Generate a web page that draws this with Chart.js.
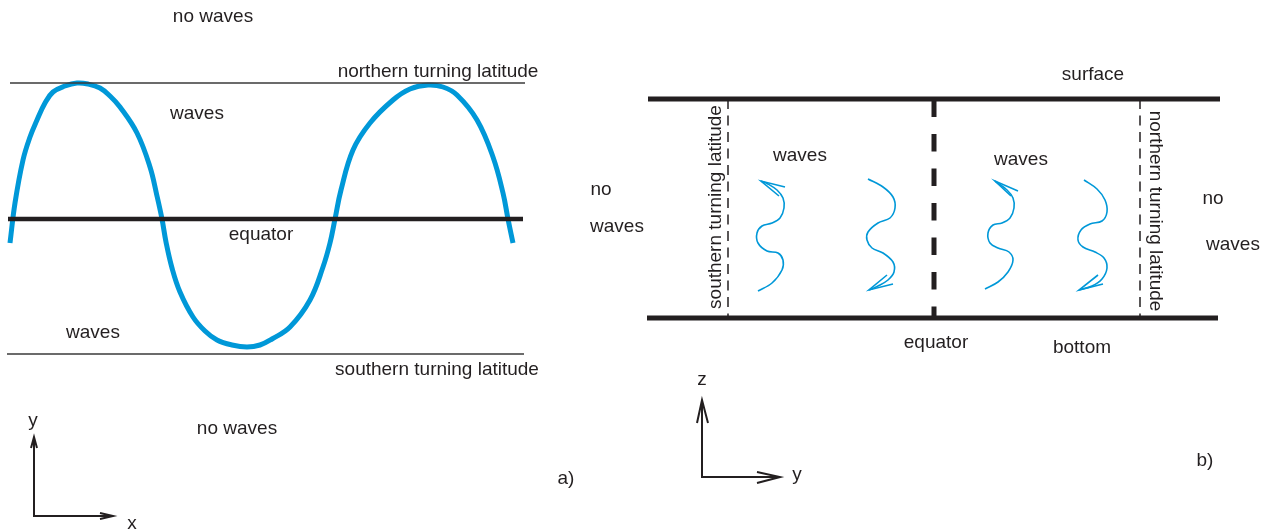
<!DOCTYPE html>
<html lang="en">
<head>
  <meta charset="UTF-8">
  <title>Equatorial waves between turning latitudes</title>
  <script src="https://cdn.jsdelivr.net/npm/chart.js"></script>
  <style>
  body {
    background: #ffffff;
    margin: 0;
  }

  #box {
    width: 1271px;
    height: 532px;
  }
</style>
</head>
<body>

  <div id="box"><canvas id="chart"></canvas></div>

  <script>
    // drawing space = picture pixels (x right, y down)
    const sineWave = [
      [10, 243], [15, 203], [23, 160], [30, 137], [37, 120], [45, 103], [53, 92], [65, 86], [77, 83],
      [88, 84], [100, 88], [110, 96], [120, 107], [137, 133], [150, 167], [157, 196], [162, 219],
      [166, 242], [172, 268], [180, 292], [193, 317], [205, 331], [217, 340], [232, 345], [247, 347],
      [260, 345], [272, 339], [290, 327], [310, 300], [323, 267], [330, 243], [335, 219], [341, 190],
      [353, 150], [370, 123], [393, 100], [410, 89], [428, 85], [443, 87], [457, 95], [477, 120],
      [493, 157], [503, 193], [508, 219], [513, 243]
    ];
    const northLine = [[10, 83], [525, 83]];
    const southLine = [[7, 354], [524, 354]];
    const equatorA = [[8, 219], [523, 219]];

    const surfaceLine = [[648, 99], [1220, 99]];
    const bottomLine = [[647, 318], [1218, 318]];
    const southDash = [[728, 99], [728, 316]];
    const northDash = [[1140, 99], [1140, 316]];
    const equatorB = [[934, 99.5], [934, 318]];

    const wiggle1 = [[758, 291], [772, 283], [782, 270], [783, 260], [778, 253], [767, 251], [758, 243], [757, 233],
      [762, 226], [772, 223], [780, 218], [784, 208], [783, 198], [777, 190], [768, 184], [761, 181]];
    const head1 = [[785, 187], [761, 181], [779, 196]];
    const wiggle2 = [[868, 179], [883, 187], [893, 197], [895, 208], [890, 218], [878, 223], [868, 232], [867, 240],
      [872, 248], [883, 253], [893, 262], [894, 272], [888, 280], [878, 286], [869, 290]];
    const head2 = [[893, 284], [869, 290], [887, 275]];
    const wiggle3 = [[985, 289], [998, 282], [1008, 272], [1013, 260], [1009, 252], [998, 248], [990, 243], [988, 233],
      [993, 225], [1002, 223], [1010, 218], [1014, 208], [1013, 198], [1007, 190], [995, 181]];
    const head3 = [[1018, 191], [995, 181], [1011, 196]];
    const wiggle4 = [[1084, 180], [1097, 189], [1105, 200], [1107, 212], [1102, 221], [1090, 224], [1081, 230], [1078, 240],
      [1083, 247], [1095, 252], [1104, 258], [1107, 268], [1102, 279], [1092, 286], [1079, 290]];
    const head4 = [[1103, 284], [1079, 290], [1098, 275]];

    const axisA = [[34, 437], [34, 516], [113, 516]];
    const axisAHeads = [[[31, 448], [34, 437], [37, 448]], [[100, 513], [113, 516], [100, 519]]];
    const axisB = [[702, 400], [702, 477], [780, 477]];
    const axisBHeads = [[[697, 423], [702, 400], [708, 423]], [[757, 472], [780, 477], [757, 483]]];

    const labelTexts = ['no waves', 'northern turning latitude', 'waves', 'equator', 'waves', 'southern turning latitude',
      'y', 'x', 'no waves', 'a)',
      'surface', 'no', 'waves', 'waves', 'waves', 'southern turning latitude', 'northern turning latitude',
      'no', 'waves', 'equator', 'bottom', 'z', 'y', 'b)'];
    const labelX = [213, 438, 197, 261, 93, 437, 33, 132, 237, 566,
      1093, 601, 617, 800, 1021, 716, 1155, 1213, 1233, 936, 1082, 702, 797, 1205];
    const labelY = [17, 72, 114, 235, 333, 370, 421, 524, 429, 479,
      75, 190, 227, 156, 160, 207, 211, 199, 245, 343, 348, 380, 475, 461];
    const labelAngle = [0, 0, 0, 0, 0, 0, 0, 0, 0, 0,
      0, 0, 0, 0, 0, -90, 90, 0, 0, 0, 0, 0, 0, 0];

    const ink = '#231f20';
    const blue = '#0098d8';
    const pts = list => list.map(p => ({ x: p[0], y: p[1] }));

    function line(list, color, width, extra) {
      return Object.assign({
        data: pts(list),
        showLine: true,
        borderColor: color,
        borderWidth: width,
        pointRadius: 0,
        fill: false,
        tension: 0,
        clip: false
      }, extra || {});
    }

    const datasets = [
      line(northLine, '#3a3a3a', 1.3),
      line(southLine, '#3a3a3a', 1.3),
      line(equatorA, ink, 4.5),
      line(sineWave, blue, 5, { tension: 0.4 }),
      line(surfaceLine, ink, 5),
      line(bottomLine, ink, 5),
      line(southDash, ink, 1.5, { borderDash: [10, 6.5] }),
      line(northDash, ink, 1.5, { borderDash: [10, 6.5] }),
      line(equatorB, ink, 5, { borderDash: [17.5, 17] }),
      line(wiggle1, blue, 1.6, { tension: 0.35 }),
      line(wiggle2, blue, 1.6, { tension: 0.35 }),
      line(wiggle3, blue, 1.6, { tension: 0.35 }),
      line(wiggle4, blue, 1.6, { tension: 0.35 }),
      line(head1, blue, 1.6),
      line(head2, blue, 1.6),
      line(head3, blue, 1.6),
      line(head4, blue, 1.6),
      line(axisA, ink, 2),
      line(axisB, ink, 2)
    ];
    axisAHeads.concat(axisBHeads).forEach(h => datasets.push(line(h, ink, 2)));

    const textPlugin = {
      id: 'texts',
      afterDatasetsDraw(chart) {
        const c = chart.ctx;
        const xs = chart.scales.x;
        const ys = chart.scales.y;
        c.save();
        c.fillStyle = ink;
        c.font = '19px "Liberation Sans", Arial, sans-serif';
        c.textAlign = 'center';
        c.textBaseline = 'middle';
        labelTexts.forEach((t, i) => {
          c.save();
          c.translate(xs.getPixelForValue(labelX[i]), ys.getPixelForValue(labelY[i]));
          c.rotate(labelAngle[i] * Math.PI / 180);
          c.fillText(t, 0, 0);
          c.restore();
        });
        c.restore();
      }
    };

    new Chart(document.getElementById('chart'), {
      type: 'scatter',
      data: { datasets: datasets },
      options: {
        responsive: true,
        maintainAspectRatio: false,
        animation: false,
        layout: { padding: 0 },
        plugins: { legend: { display: false }, tooltip: { enabled: false } },
        scales: {
          x: { type: 'linear', min: 0, max: 1271, display: false },
          y: { type: 'linear', min: 0, max: 532, reverse: true, display: false }
        }
      },
      plugins: [textPlugin]
    });
  </script>

</body>
</html>
